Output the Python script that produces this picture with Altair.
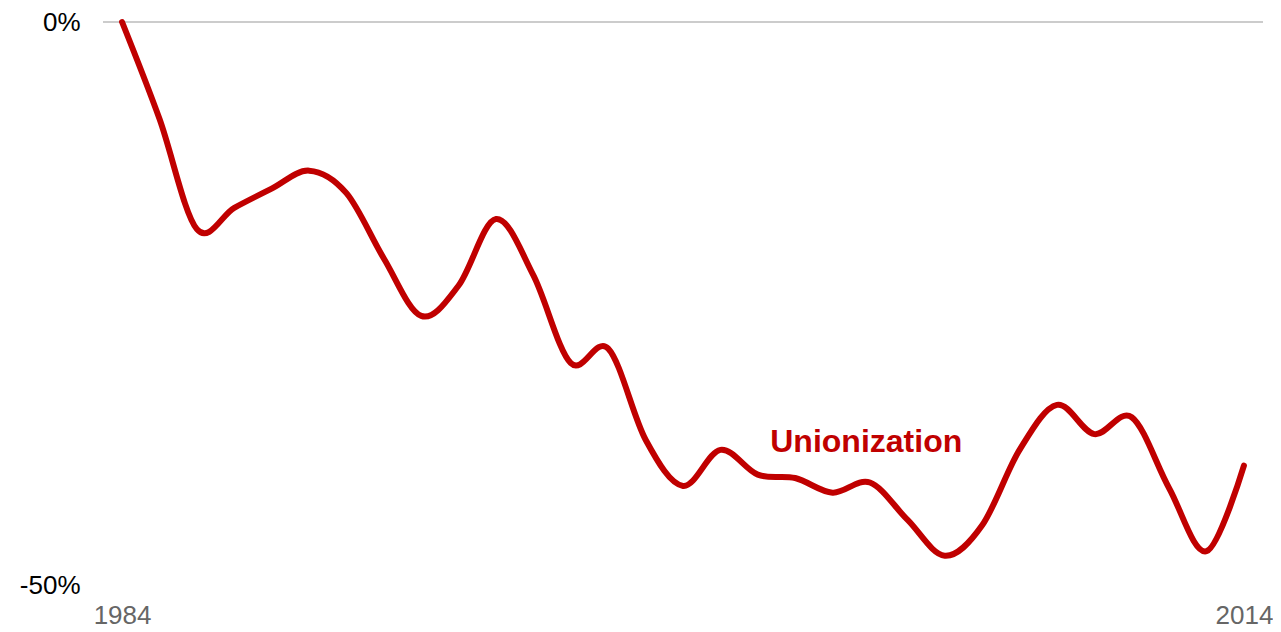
import altair as alt
import pandas as pd

years = list(range(1984, 2015))
values = [0.0, -8.6, -18.4, -16.5, -14.8, -13.2, -15.2, -21.0, -26.1, -23.4,
          -17.5, -22.5, -30.3, -29.0, -37.1, -41.2, -38.0, -40.2, -40.5, -41.8,
          -40.9, -44.2, -47.4, -44.7, -38.0, -34.0, -36.6, -35.1, -41.4, -47.0,
          -39.4]
label_text = ["Unionization"]
label_year = [2003.9]
label_value = [-37.3]

df = pd.DataFrame({"year": years, "value": values})
lab = pd.DataFrame({"year": label_year, "value": label_value, "text": label_text})
zero = pd.DataFrame({"value": [0]})

RED = "#C00000"

xscale = alt.Scale(domain=[1983.49, 2014.51], nice=False, zero=False)
yscale = alt.Scale(domain=[-50, 0], nice=False)

grid = alt.Chart(zero).mark_rule(color="#BBBBBB", strokeWidth=1.5).encode(
    y=alt.Y("value:Q", scale=yscale)
)

line = alt.Chart(df).mark_line(
    color=RED, strokeWidth=6, interpolate="cardinal", strokeCap="round"
).encode(
    x=alt.X("year:Q", scale=xscale,
            axis=alt.Axis(values=[1984, 2014], format="d", title=None,
                          domain=False, ticks=False, grid=False,
                          labelColor="#666666", labelFontSize=26,
                          labelFont="Liberation Sans", labelPadding=17,
                          labelFlush=False)),
    y=alt.Y("value:Q", scale=yscale,
            axis=alt.Axis(values=[-50, 0], title=None, domain=False,
                          ticks=False, grid=False,
                          labelExpr="datum.value + '%'",
                          labelColor="#000000", labelFontSize=26,
                          labelFont="Liberation Sans", labelPadding=23)),
)

text = alt.Chart(lab).mark_text(
    color=RED, fontSize=32, fontWeight="bold", font="Liberation Sans",
    align="center", baseline="middle"
).encode(
    x=alt.X("year:Q", scale=xscale),
    y=alt.Y("value:Q", scale=yscale),
    text="text:N",
)

chart = (grid + line + text).properties(
    width=1160, height=563,
    autosize=alt.AutoSizeParams(type="none"),
    padding={"left": 95, "top": 14, "right": 10, "bottom": 47},
).configure_view(stroke=None)

chart.save("out.html", embed_options={"renderer": "svg", "actions": False})
